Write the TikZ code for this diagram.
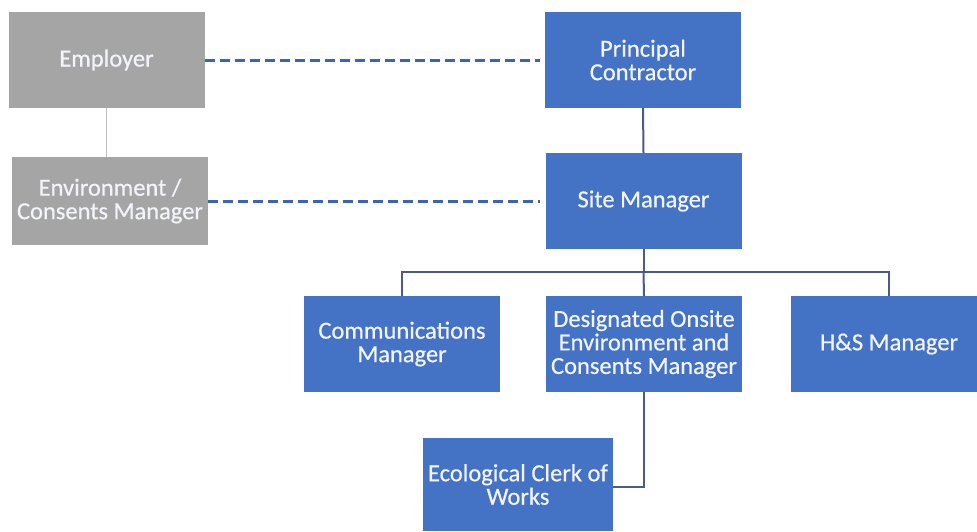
\documentclass[tikz,border=0pt]{standalone}
\usepackage{fontspec}
\setmainfont{Carlito}
\newfontface\boxfont{Carlito}[FakeBold=0.6]
\definecolor{boxblue}{HTML}{4472C4}
\definecolor{boxgray}{HTML}{A5A5A5}
\definecolor{linkblue}{HTML}{4A5B87}
\definecolor{dashblue}{HTML}{3D63B8}
\definecolor{linkgray}{HTML}{BFBFBF}
\definecolor{boxtext}{HTML}{F2F4FA}
\tikzset{
  role/.style={fill=boxblue, minimum width=196pt, minimum height=96pt,
    text=boxtext, align=center, inner sep=2pt,
    font=\boxfont\fontsize{24.5}{23.5}\selectfont},
  client/.style={role, fill=boxgray},
  link/.style={draw=linkblue, line width=2pt},
  clientlink/.style={draw=linkgray, line width=1.5pt},
  liaison/.style={draw=dashblue, line width=3pt, dash pattern=on 10pt off 5pt}
}
\begin{document}
\begin{tikzpicture}[x=1pt,y=-1pt]
\useasboundingbox[fill=white] (0,0) rectangle (977,531);

% client side
\node[client] (employer) at (106.5,60) {Employer};
\node[client, minimum height=88pt] (envman) at (110,201) {Environment /\\Consents Manager};

% contractor side
\node[role] (pc) at (643,60) {Principal\\Contractor};
\node[role] (site) at (643.5,201) {Site Manager};
\node[role] (comms) at (402,344) {Communications\\Manager};
\node[role] (desig) at (644,344) {Designated Onsite\\Environment and\\Consents Manager};
\node[role] (hs) at (889,344) {H\&S Manager};
\node[role, minimum width=190pt, minimum height=93pt] (eco) at (518,484.5) {Ecological Clerk of\\Works};

% connectors
\draw[clientlink] (employer.south) -- (employer.south |- envman.north);
\draw[liaison, shorten >=5pt] (employer.east) -- (pc.west);
\draw[liaison, shorten >=5pt] (envman.east) -- (site.west);
\draw[link] (pc.south) -- (site.north);
\coordinate (bar) at ([yshift=-23pt]site.south);
\draw[link] (site.south) -- (bar);
\draw[link] (comms.north) |- (bar) -| (hs.north);
\draw[link] (bar) -- (desig.north);
\draw[link] (desig.south) |- ([yshift=-2.5pt]eco.east);
\end{tikzpicture}
\end{document}
